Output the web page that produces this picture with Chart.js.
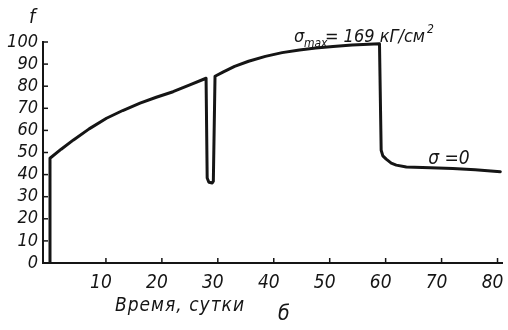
<!DOCTYPE html>
<html lang="ru">
<head>
<meta charset="UTF-8">
<title>f — время</title>
<script src="https://cdn.jsdelivr.net/npm/chart.js"></script>
<style>
  html, body { margin: 0; padding: 0; background: #fff; }
  #wrap { width: 508px; height: 330px; }
</style>
</head>
<body>
<div id="wrap"><canvas id="myChart"></canvas></div>
<script>
// данные
const days = [0, 0, 2, 4.2, 7, 10.1, 13, 16.1, 19, 22, 25, 27.9,
  28.1, 28.4, 29.0, 29.2, 29.5, 31, 33, 35.5, 38.5, 41.5, 44.6, 47.5, 50.6, 54, 58.9,
  59.2, 59.5, 60.1, 61, 61.9, 63.7, 68, 72, 76, 80.5];
const fValues = [0, 47.4, 51.5, 55.7, 60.7, 65.5, 69, 72.3, 75, 77.5, 80.6, 83.6,
  38.5, 36.5, 36.2, 37, 84.5, 86.5, 89, 91.3, 93.5, 95.2, 96.4, 97.3, 98, 98.6, 99.2,
  51, 48.5, 47, 45.2, 44.3, 43.4, 43.1, 42.8, 42.2, 41.3];
const xTicks = [10, 20, 30, 40, 50, 60, 70, 80];
const yTicks = [0, 10, 20, 30, 40, 50, 60, 70, 80, 90, 100];

const FONT = "'Liberation Sans Narrow', 'DejaVu Sans Condensed', sans-serif";
const INK = '#151515';

// подписи и внутренние засечки осей
const extras = {
  id: 'extras',
  afterDraw(chart) {
    const c = chart.ctx, x = chart.scales.x, y = chart.scales.y;
    c.save();
    c.strokeStyle = INK;
    c.lineWidth = 1.5;
    yTicks.forEach(v => {
      if (v === 0) return;
      const py = y.getPixelForValue(v);
      c.beginPath(); c.moveTo(x.left, py); c.lineTo(x.left + 5, py); c.stroke();
    });
    xTicks.forEach(v => {
      const px = x.getPixelForValue(v);
      c.beginPath(); c.moveTo(px, y.bottom); c.lineTo(px, y.bottom - 5); c.stroke();
    });

    c.fillStyle = INK;
    c.textBaseline = 'alphabetic';
    c.textAlign = 'left';
    c.font = 'italic 20px ' + FONT;
    c.fillText('f', 29, 23);

    c.font = 'italic 19px ' + FONT;
    c.letterSpacing = '1px';
    c.fillText('Время, сутки', 115, 311);
    c.letterSpacing = '0px';
    c.font = 'italic 21px ' + FONT;
    c.fillText('б', 278, 320);

    // σmax = 169 кГ/см²
    let ax = x.getPixelForValue(43.6), ay = y.getPixelForValue(99.9);
    c.font = 'italic 18px ' + FONT;
    c.fillText('σ', ax, ay);
    c.font = 'italic 12px ' + FONT;
    c.fillText('max', ax + 10, ay + 5);
    c.font = 'italic 18px ' + FONT;
    c.fillText('= 169 кГ/см', ax + 31, ay);
    const w = c.measureText('= 169 кГ/см').width;
    c.font = 'italic 12px ' + FONT;
    c.fillText('2', ax + 33 + w, ay - 9);

    // σ = 0
    ax = x.getPixelForValue(67.6); ay = y.getPixelForValue(45);
    c.font = 'italic 19px ' + FONT;
    c.fillText('σ =0', ax, ay);
    c.restore();
  }
};

const ctx = document.getElementById('myChart').getContext('2d');
new Chart(ctx, {
  type: 'line',
  data: {
    datasets: [{
      data: days.map((d, i) => ({ x: d, y: fValues[i] })),
      borderColor: INK,
      borderWidth: 3,
      pointRadius: 0,
      tension: 0,
      fill: false,
      borderJoinStyle: 'round',
      borderCapStyle: 'round'
    }]
  },
  options: {
    responsive: true,
    maintainAspectRatio: false,
    animation: false,
    layout: { padding: { top: 42, right: 6, bottom: 0, left: 0 } },
    plugins: { legend: { display: false }, tooltip: { enabled: false } },
    scales: {
      x: {
        type: 'linear',
        min: -1.25,
        max: 80.8,
        afterBuildTicks: s => { s.ticks = xTicks.map(v => ({ value: v })); },
        afterFit: s => { s.height = 67; s.paddingLeft = 0; s.paddingRight = 0; },
        grid: { display: true, drawOnChartArea: false, drawTicks: false },
        border: { color: INK, width: 2 },
        ticks: {
          autoSkip: false,
          padding: 9,
          labelOffset: -5,
          maxRotation: 0,
          color: INK,
          font: { family: FONT, size: 19, style: 'italic' }
        }
      },
      y: {
        min: 0,
        max: 100,
        afterBuildTicks: s => { s.ticks = yTicks.map(v => ({ value: v })); },
        afterFit: s => { s.width = 43; s.paddingTop = 0; s.paddingBottom = 0; },
        grid: { display: true, drawOnChartArea: false, drawTicks: false },
        border: { color: INK, width: 2 },
        ticks: {
          autoSkip: false,
          padding: 5,
          color: INK,
          font: { family: FONT, size: 18, style: 'italic' }
        }
      }
    }
  },
  plugins: [extras]
});
</script>
</body>
</html>
